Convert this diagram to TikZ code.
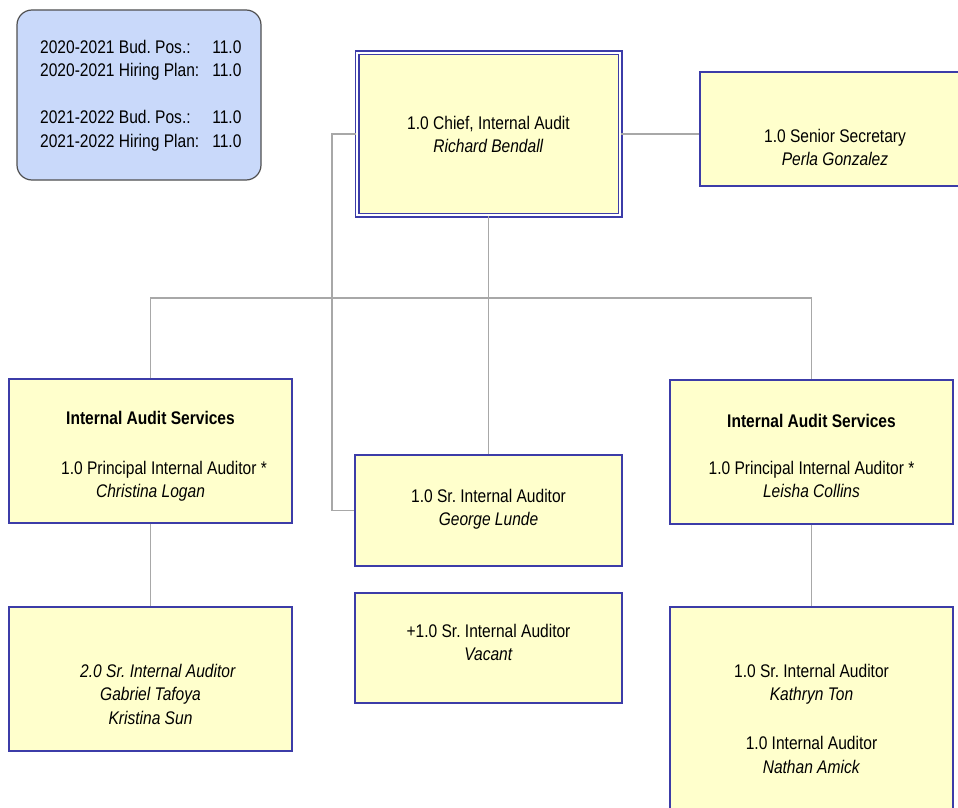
\documentclass[tikz,border=0pt]{standalone}
\usepackage{fontspec}
\setmainfont{Liberation Sans}[FakeStretch=0.85]
\frenchspacing
\definecolor{boxfill}{RGB}{255,255,204}
\definecolor{boxline}{RGB}{60,60,168}
\definecolor{infofill}{RGB}{201,217,250}
\definecolor{infoline}{RGB}{80,80,80}
\definecolor{linkgray}{RGB}{168,168,168}
\tikzset{
  unit/.style={draw=boxline, fill=boxfill, line width=1.2pt, inner sep=0pt},
  infobox/.style={draw=infoline, fill=infofill, line width=1.2pt, rounded corners=15pt, inner sep=0pt},
  link/.style={draw=linkgray, line width=1.5pt},
  txt/.style={anchor=north, inner sep=0pt, align=center, font=\fontsize{18.3}{23.5}\selectfont}
}
\begin{document}
\begin{tikzpicture}[x=1pt,y=1pt,yscale=-1]
\useasboundingbox (0,0) rectangle (958,808);
\clip (0,0) rectangle (958,808);
%Shape: Rounded Rectangle
\node[infobox, minimum width=244pt, minimum height=170pt] (info) at (139,95) {};
%Shape: Rectangle (double)
\node[unit, double=white, double distance=2.6pt, minimum width=263pt, minimum height=162pt] (chief) at (488.5,134) {};
%Shape: Rectangle
\node[unit, minimum width=270pt, minimum height=114pt] (sec) at (835,129) {};
\node[unit, minimum width=283pt, minimum height=144pt] (leftsvc) at (150.5,451) {};
\node[unit, minimum width=267pt, minimum height=111pt] (lunde) at (488.5,510.5) {};
\node[unit, minimum width=267pt, minimum height=110pt] (vacant) at (488.5,648) {};
\node[unit, minimum width=283pt, minimum height=144pt] (rightsvc) at (811.5,452) {};
\node[unit, minimum width=283pt, minimum height=144pt] (leftaud) at (150.5,679) {};
\node[unit, minimum width=283pt, minimum height=228pt] (rightaud) at (811.5,721) {};
%Straight Lines
\coordinate (bus) at (488.5,298);
\coordinate (side) at (332,134);
\draw[link] (chief.east) -- (chief.east -| sec.west);
\draw[link] (chief.south) -- (lunde.north);
\draw[link] (leftsvc.north) |- (bus) -| (rightsvc.north);
\draw[link] (chief.west) -- (side) |- (lunde.west);
\draw[link] (leftsvc.south) -- (leftaud.north);
\draw[link] (rightsvc.south) -- (rightaud.north);

% Text Node
\node[txt, anchor=north west] (t-info) at (40,36.5) {\begin{tabular}{@{}l@{\hspace{13pt}}r@{}}
2020-2021 Bud. Pos.: & 11.0\\
2020-2021 Hiring Plan: & 11.0\\
\\
2021-2022 Bud. Pos.: & 11.0\\
2021-2022 Hiring Plan: & 11.0
\end{tabular}};
% Text Node
\node[txt] (t-chief) at (488.5,116) {1.0 Chief, Internal Audit\\\textit{Richard Bendall}};
% Text Node
\node[txt] (t-sec) at (835,129) {1.0 Senior Secretary\\\textit{Perla Gonzalez}};
% Text Node
\node[txt] (t-leftsvc) at (150.5,411) {\textbf{Internal Audit Services}\\[26.5pt]\hspace*{27pt}1.0 Principal Internal Auditor *\\\textit{Christina Logan}};
% Text Node
\node[txt] (t-lunde) at (488.5,489) {1.0 Sr. Internal Auditor\\\textit{George Lunde}};
% Text Node
\node[txt] (t-vacant) at (488.5,624) {+1.0 Sr. Internal Auditor\\\textit{Vacant}};
% Text Node
\node[txt] (t-rightsvc) at (811.5,414) {\textbf{Internal Audit Services}\\[23.5pt]1.0 Principal Internal Auditor *\hspace*{18pt}\\\textit{Leisha Collins}};
% Text Node
\node[txt] (t-leftaud) at (150.5,664) {\hspace*{15pt}\textit{2.0 Sr. Internal Auditor}\\\textit{Gabriel Tafoya}\\\textit{Kristina Sun}};
% Text Node
\node[txt] (t-rightaud) at (811.5,664) {1.0 Sr. Internal Auditor\\\textit{Kathryn Ton}\\[25.5pt]1.0 Internal Auditor\\\textit{Nathan Amick}};
\end{tikzpicture}
\end{document}
